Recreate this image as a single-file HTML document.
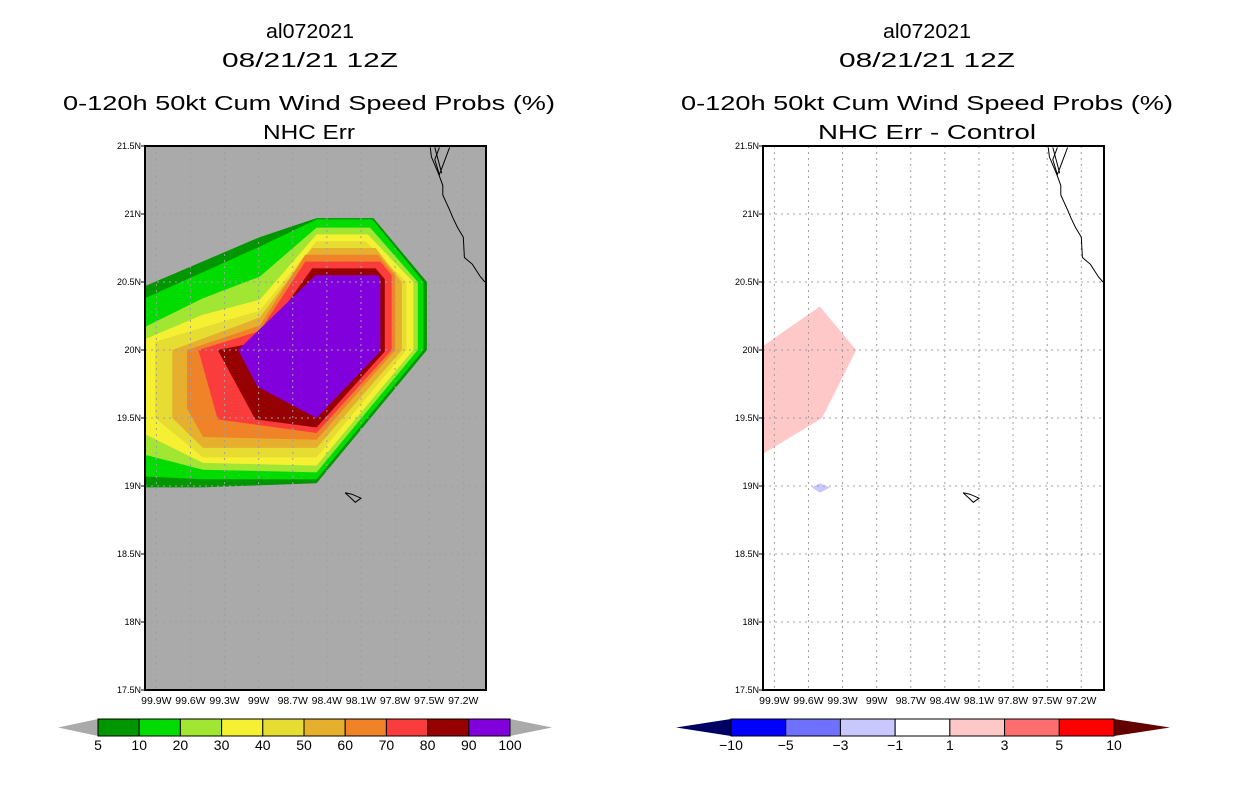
<!DOCTYPE html>
<html><head><meta charset="utf-8"><style>
body{margin:0;background:#fff}
svg{display:block;font-family:"Liberation Sans",sans-serif}
</style></head><body>
<svg id="chart" width="1236" height="800" viewBox="0 0 1236 800">
<g id="titles">
<text x="310" y="38" font-size="20" text-anchor="middle" textLength="88" lengthAdjust="spacingAndGlyphs">al072021</text>
<text x="310" y="67" font-size="20" text-anchor="middle" textLength="176" lengthAdjust="spacingAndGlyphs">08/21/21 12Z</text>
<text x="309" y="110" font-size="20" text-anchor="middle" textLength="492" lengthAdjust="spacingAndGlyphs">0-120h 50kt Cum Wind Speed Probs (%)</text>
<text x="309" y="139" font-size="20" text-anchor="middle" textLength="92" lengthAdjust="spacingAndGlyphs">NHC Err</text>
<text x="927" y="38" font-size="20" text-anchor="middle" textLength="88" lengthAdjust="spacingAndGlyphs">al072021</text>
<text x="927" y="67" font-size="20" text-anchor="middle" textLength="176" lengthAdjust="spacingAndGlyphs">08/21/21 12Z</text>
<text x="927" y="110" font-size="20" text-anchor="middle" textLength="492" lengthAdjust="spacingAndGlyphs">0-120h 50kt Cum Wind Speed Probs (%)</text>
<text x="927" y="139" font-size="20" text-anchor="middle" textLength="218" lengthAdjust="spacingAndGlyphs">NHC Err - Control</text>
</g>
</svg>
<script>
const lonTicks=[99.9,99.6,99.3,99.0,98.7,98.4,98.1,97.8,97.5,97.2];
const lonLabels=["99.9W","99.6W","99.3W","99W","98.7W","98.4W","98.1W","97.8W","97.5W","97.2W"];
const latTicks=[21.5,21,20.5,20,19.5,19,18.5,18,17.5];
const latLabels=["21.5N","21N","20.5N","20N","19.5N","19N","18.5N","18N","17.5N"];
const probLevels=[5,10,20,30,40,50,60,70,80,90];
const probColors=["#009600","#00dc00","#a0e632","#f5f032","#e6dc32","#e6af2d","#f08228","#fa3c3c","#960000","#8200dc"];
const probPolys=[
[[100.0,20.47],[98.99,20.83],[98.49,20.97],[97.99,20.97],[97.52,20.50],[97.52,20.00],[98.49,19.02],[99.49,18.99],[100.0,18.99]],
[[100.0,20.38],[98.99,20.76],[98.49,20.96],[98.00,20.96],[97.55,20.50],[97.55,20.00],[98.49,19.05],[99.49,19.05],[100.0,19.07]],
[[100.0,20.17],[99.49,20.38],[98.99,20.54],[98.49,20.90],[98.02,20.90],[97.60,20.50],[97.60,20.00],[98.49,19.10],[99.49,19.12],[100.0,19.23]],
[[100.0,20.08],[99.49,20.26],[98.99,20.37],[98.49,20.85],[98.04,20.85],[97.64,20.50],[97.64,20.00],[98.49,19.15],[99.49,19.17],[100.0,19.38]],
[[99.91,20.06],[98.99,20.29],[98.49,20.80],[98.06,20.80],[97.70,20.50],[97.70,20.00],[98.49,19.21],[99.49,19.21],[99.91,19.50]],
[[99.76,20.00],[98.99,20.24],[98.53,20.75],[97.97,20.75],[97.74,20.50],[97.74,20.00],[98.49,19.28],[99.49,19.28],[99.76,19.50]],
[[99.63,20.00],[98.99,20.18],[98.59,20.70],[97.95,20.70],[97.80,20.55],[97.80,20.00],[98.49,19.34],[99.49,19.36],[99.63,19.57]],
[[99.53,20.00],[98.99,20.14],[98.59,20.65],[97.93,20.65],[97.83,20.55],[97.83,20.00],[98.49,19.39],[99.36,19.49]],
[[99.36,20.00],[98.99,20.06],[98.53,20.60],[97.97,20.60],[97.89,20.52],[97.89,19.99],[98.49,19.43],[99.03,19.49]],
[[99.18,20.00],[98.50,20.55],[97.95,20.55],[97.93,20.52],[97.93,19.99],[98.49,19.50],[99.01,19.73]]
];
const diffLevels=[-10,-5,-3,-1,1,3,5,10];
const diffColors=["#0000ff","#7070ff","#c8c8ff","#ffffff","#ffc8c8","#ff6e6e","#ff0000"];
const diffPolyPink=[[100.05,20.00],[99.50,20.32],[99.18,20.00],[99.48,19.50],[100.05,19.21]];
const diffPolyBlue=[[99.57,18.99],[99.50,19.02],[99.41,18.99],[99.50,18.95]];
const coastMain=[[97.49,21.49],[97.48,21.42],[97.42,21.30],[97.38,21.21],[97.38,21.14],[97.32,21.03],[97.29,20.97],[97.25,20.90],[97.20,20.83],[97.19,20.68],[97.12,20.63],[97.05,20.54],[97.01,20.50]];
const coastB=[[97.45,21.49],[97.39,21.30]];
const coastC=[[97.32,21.49],[97.41,21.29],[97.45,21.40],[97.41,21.49]];
const island=[[98.24,18.95],[98.18,18.94],[98.10,18.91],[98.15,18.88],[98.20,18.92],[98.24,18.95]];

const NS="http://www.w3.org/2000/svg";
const svg=document.getElementById('chart');
function mk(tag,attrs,parent){const e=document.createElementNS(NS,tag);for(const k in attrs)e.setAttribute(k,attrs[k]);(parent||svg).appendChild(e);return e;}
const W=341,H=544,TOP=146;
function xS(x0,lon){return x0+(100-lon)/3*W;}
function yS(lat){return TOP+(21.5-lat)/4*H;}
function pts(x0,arr){return arr.map(p=>xS(x0,p[0]).toFixed(1)+","+yS(p[1]).toFixed(1)).join(" ");}

function panel(x0,name,bg,fills){
  const g=mk('g',{});
  
  
  const cid='clip-'+name;
  const cp=mk('clipPath',{id:cid},g);
  mk('rect',{x:x0,y:TOP,width:W,height:H},cp);
  const bgR=mk('rect',{x:x0,y:TOP,width:W,height:H,fill:bg},g);
  
  
  const cg=mk('g',{'clip-path':'url(#'+cid+')'},g);
  fills(cg,x0);
  lonTicks.forEach(l=>{const ln=mk('line',{x1:xS(x0,l),x2:xS(x0,l),y1:TOP,y2:TOP+H,stroke:'#a0a0a0','stroke-dasharray':'2,4','stroke-width':1},cg);
    });
  latTicks.forEach(l=>{const ln=mk('line',{x1:x0,x2:x0+W,y1:yS(l),y2:yS(l),stroke:'#a0a0a0','stroke-dasharray':'2,4','stroke-width':1},cg);
    });
  [coastMain,coastB,coastC,island].forEach(c=>{const pl=mk('polyline',{points:pts(x0,c),fill:'none',stroke:'#000','stroke-width':1},cg);
    });
  const fr=mk('rect',{x:x0,y:TOP,width:W,height:H,fill:'none',stroke:'#000','stroke-width':2},g);
  
  latTicks.forEach((l,i)=>{
    mk('line',{x1:x0-4,x2:x0,y1:yS(l),y2:yS(l),stroke:'#000'},g);
    const t=mk('text',{x:x0-4,y:yS(l)+3,'font-size':9,'text-anchor':'end'},g);t.textContent=latLabels[i];
    });
  lonTicks.forEach((l,i)=>{
    const t=mk('text',{x:xS(x0,l),y:704,'font-size':10.5,'text-anchor':'middle'},g);t.textContent=lonLabels[i];
    });
}
panel(145,'left-map','#aaaaaa',(cg,x0)=>{
  probPolys.forEach((p,i)=>{const pg=mk('polygon',{points:pts(x0,p),fill:probColors[i]},cg);
    });
});
panel(763,'right-map','#ffffff',(cg,x0)=>{
  const a=mk('polygon',{points:pts(x0,diffPolyPink),fill:diffColors[4]},cg);
  
  const b=mk('polygon',{points:pts(x0,diffPolyBlue),fill:diffColors[2]},cg);
  
});

function colorbar(name,x1,x2,triL,triR,y,h,colors,labels,lc,rc){
  const g=mk('g',{});
  
  
  const n=colors.length,bw=(x2-x1)/n,ym=y+h/2;
  const l=mk('polygon',{points:`${triL},${ym} ${x1},${y} ${x1},${y+h}`,fill:lc},g);
  
  const r=mk('polygon',{points:`${triR},${ym} ${x2},${y} ${x2},${y+h}`,fill:rc},g);
  
  colors.forEach((c,i)=>{const b=mk('rect',{x:x1+i*bw,y:y,width:bw,height:h,fill:c,stroke:'#000','stroke-width':1},g);
    });
  labels.forEach((v,i)=>{const t=mk('text',{x:x1+i*bw,y:y+h+14,'font-size':14,'text-anchor':'middle'},g);t.textContent=String(v).replace('-','\u2212');
    });
}
colorbar('prob-colorbar',98,510,58,552,719,17,probColors,probLevels.concat([100]),'#aaaaaa','#aaaaaa');
colorbar('diff-colorbar',731,1114,676,1170,719,17,diffColors,diffLevels,'#000064','#640000');
</script>
</body></html>
